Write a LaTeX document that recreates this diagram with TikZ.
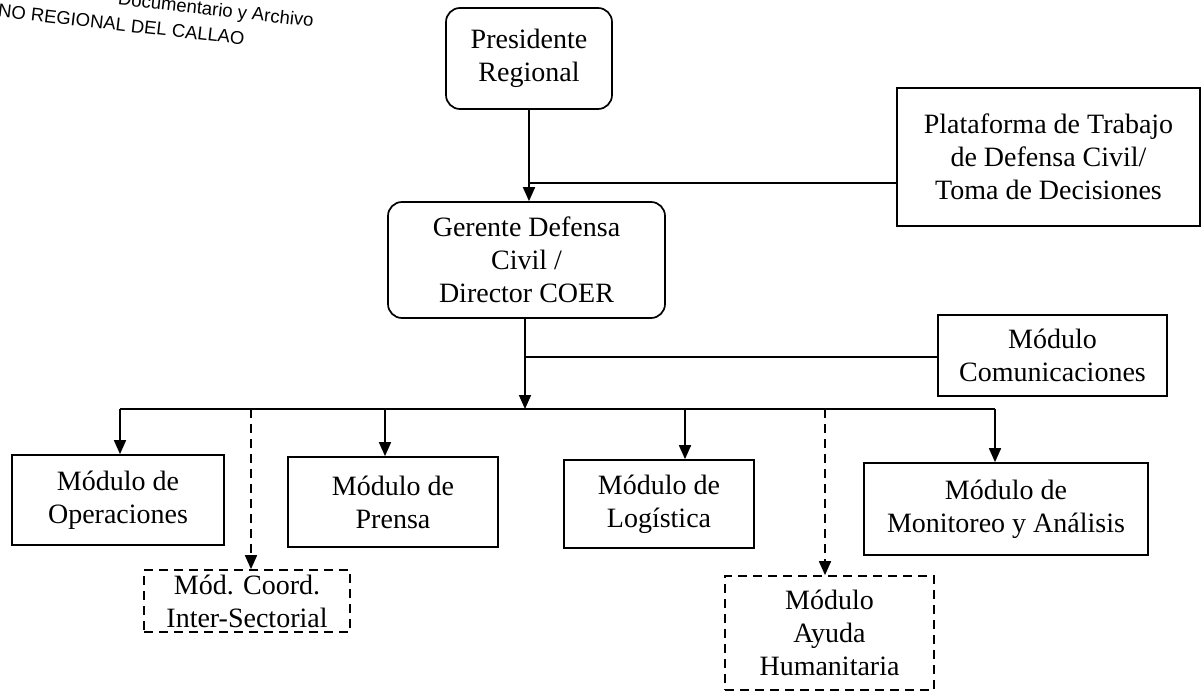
\documentclass[tikz,border=0pt]{standalone}
\usepackage{fontspec}
\setmainfont{Liberation Serif}
\newfontfamily\stampfont{Liberation Sans}
\usetikzlibrary{arrows.meta}
\tikzset{
  box/.style={draw, line width=1.7pt, align=center, inner sep=0pt,
    font=\fontsize{28}{33}\selectfont},
  rbox/.style={box, rounded corners=14pt},
  dbox/.style={box, dashed, dash pattern=on 9pt off 6pt},
  conn/.style={line width=1.7pt},
  arr/.style={conn, -{Triangle[width=12pt,length=14pt]}},
  darr/.style={arr, dash pattern=on 9pt off 6pt},
  stamp/.style={font=\stampfont\fontsize{18.5}{21}\selectfont, rotate=-6.5, inner sep=0pt},
}
\begin{document}
\begin{tikzpicture}[x=1pt,y=-1pt]
\useasboundingbox (0,0) rectangle (1202,693);
% stamp
\node[stamp, anchor=base east] (stamp1) at (313,27) {Documentario y Archivo};
\node[stamp, anchor=base east] (stamp2) at (244,45) {NO REGIONAL DEL CALLAO};
% nodes
\node[rbox, minimum width=166pt, minimum height=101pt] (pres) at (529,58.5) {Presidente\\Regional};
\node[box, minimum width=303pt, minimum height=138pt] (plat) at (1048.5,157) {Plataforma de Trabajo\\de Defensa Civil/\\Toma de Decisiones};
\node[rbox, minimum width=277pt, minimum height=116pt] (ger) at (526.5,260) {Gerente Defensa\\Civil /\\Director COER};
\node[box, minimum width=229pt, minimum height=81pt] (com) at (1052.5,355.5) {Módulo\\Comunicaciones};
\node[box, minimum width=212pt, minimum height=90pt] (op) at (118,500) {Módulo de\\Operaciones};
\node[box, minimum width=210pt, minimum height=90pt] (pre) at (393,502) {Módulo de\\Prensa};
\node[box, minimum width=190pt, minimum height=88pt] (log) at (659,504) {Módulo de\\Logística};
\node[box, minimum width=284pt, minimum height=92pt] (mon) at (1006,509) {Módulo de\\Monitoreo y Análisis};
\node[dbox, minimum width=206pt, minimum height=62pt] (coo) at (247,601) {Mód. Coord.\\Inter-Sectorial};
\node[dbox, minimum width=209pt, minimum height=114pt] (ayu) at (829.5,633) {Módulo\\Ayuda\\Humanitaria};
% coordinates
\coordinate (j1) at (529,183);
\coordinate (j2) at (525,357);
\coordinate (busL) at (120,409);
\coordinate (busR) at (995,409);
\coordinate (busM) at (525,409);
\coordinate (bPre) at (385,409);
\coordinate (bLog) at (685,409);
\coordinate (bCoo) at (251,409);
\coordinate (bAyu) at (825,409);
% connectors
\draw[arr] (pres.south) -- (pres.south |- ger.north);
\draw[conn] (j1) -- (j1 -| plat.west);
\draw[arr] (ger.south -| busM) -- (busM);
\draw[conn] (j2) -- (j2 -| com.west);
\draw[conn] (busL) -- (busR);
\draw[arr] (busL) -- (busL |- op.north);
\draw[arr] (bPre) -- (bPre |- pre.north);
\draw[arr] (bLog) -- (bLog |- log.north);
\draw[arr] (busR) -- (busR |- mon.north);
\draw[darr] (bCoo) -- (bCoo |- coo.north);
\draw[darr] (bAyu) -- (bAyu |- ayu.north);
\end{tikzpicture}
\end{document}
